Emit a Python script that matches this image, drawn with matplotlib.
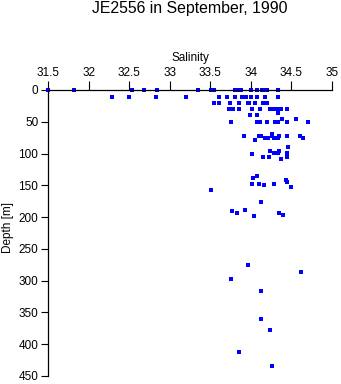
import matplotlib
matplotlib.use("Agg")
import matplotlib.pyplot as plt

plt.rcParams['font.family'] = ['Liberation Sans', 'DejaVu Sans']

# salinity / depth samples, station JE2556
depth = [0, 0, 0, 0, 0, 0, 0, 0, 0, 0, 0, 0, 0, 0, 0, 0, 0,
         11, 11, 11, 11, 11, 11, 11, 11, 11, 11, 11, 11, 11,
         21, 21, 21, 21, 21, 21, 21, 21, 21,
         30, 30, 30, 30, 30, 30, 30, 30, 30, 30,
         36, 39, 39, 45, 46,
         50, 50, 50, 50, 50, 50, 50, 50,
         70, 72, 72, 72, 72, 72, 72, 72,
         75, 75, 75, 75, 75, 79, 89, 96, 96,
         99, 99, 99, 100, 106, 106, 106, 109,
         136, 138, 142, 144, 148, 148, 148, 150, 152, 157,
         177, 189, 191, 194, 193, 196, 198,
         276, 287, 298, 317, 360, 377, 413, 435]
salinity = [31.50, 31.82, 32.54, 32.68, 32.84, 33.35, 33.51, 33.55, 33.80, 33.85,
            33.88, 34.00, 34.07, 34.14, 34.17, 34.20, 34.33,
            32.29, 32.50, 32.83, 33.20, 33.61, 33.70, 33.81, 33.89, 33.94, 34.00,
            34.07, 34.17, 34.34,
            33.54, 33.61, 33.74, 33.86, 33.96, 33.98, 34.05, 34.15, 34.20,
            33.73, 33.78, 33.86, 34.01, 34.11, 34.24, 34.28, 34.34, 34.37, 34.45,
            34.33, 33.99, 34.08, 34.38, 34.56,
            33.76, 34.07, 34.11, 34.20, 34.30, 34.33, 34.45, 34.70,
            34.26, 33.91, 34.10, 34.12, 34.26, 34.35, 34.45, 34.61,
            34.17, 34.21, 34.28, 34.34, 34.64, 34.05, 34.46, 34.23, 34.35,
            34.28, 34.34, 34.44, 34.02, 34.15, 34.22, 34.45, 34.37,
            34.08, 34.03, 34.43, 34.45, 34.02, 34.10, 34.28, 34.16, 34.50, 33.51,
            34.13, 33.93, 33.77, 33.83, 34.35, 34.40, 34.04,
            33.96, 34.62, 33.75, 34.13, 34.13, 34.23, 33.85, 34.26]

xticks = [31.5, 32, 32.5, 33, 33.5, 34, 34.5, 35]
xticklabels = ['31.5', '32', '32.5', '33', '33.5', '34', '34.5', '35']
yticks = [0, 50, 100, 150, 200, 250, 300, 350, 400, 450]

fig = plt.figure(figsize=(3.41, 3.84), dpi=100)
ax = fig.add_axes([48/341, 1 - 376/384, 284/341, 286/384])

ax.plot(salinity, depth, 's', color='#0000ff', ms=2.8, mew=0, clip_on=False)

ax.set_xlim(31.5, 35)
ax.set_ylim(450, 0)
ax.xaxis.tick_top()
ax.xaxis.set_label_position('top')
ax.set_xticks(xticks)
ax.set_xticklabels(xticklabels)
ax.set_yticks(yticks)
ax.tick_params(axis='x', length=6.5, width=0.8, pad=1.5, labelsize=8.5)
ax.tick_params(axis='y', length=5, width=0.8, pad=2, labelsize=8.5)

for s in ['right', 'bottom']:
    ax.spines[s].set_visible(False)
for s in ['left', 'top']:
    ax.spines[s].set_linewidth(0.9)

ax.set_xlabel('Salinity', fontsize=8.5, labelpad=4)
ax.set_ylabel('Depth [m]', fontsize=8.5)
ax.yaxis.set_label_coords(-0.118, 0.52)

fig.text(0.5 * (48 + 332) / 341, 1 - 8/384, 'JE2556 in September, 1990',
         ha='center', va='center', fontsize=11.4)

fig.savefig('out.png', dpi=100)
